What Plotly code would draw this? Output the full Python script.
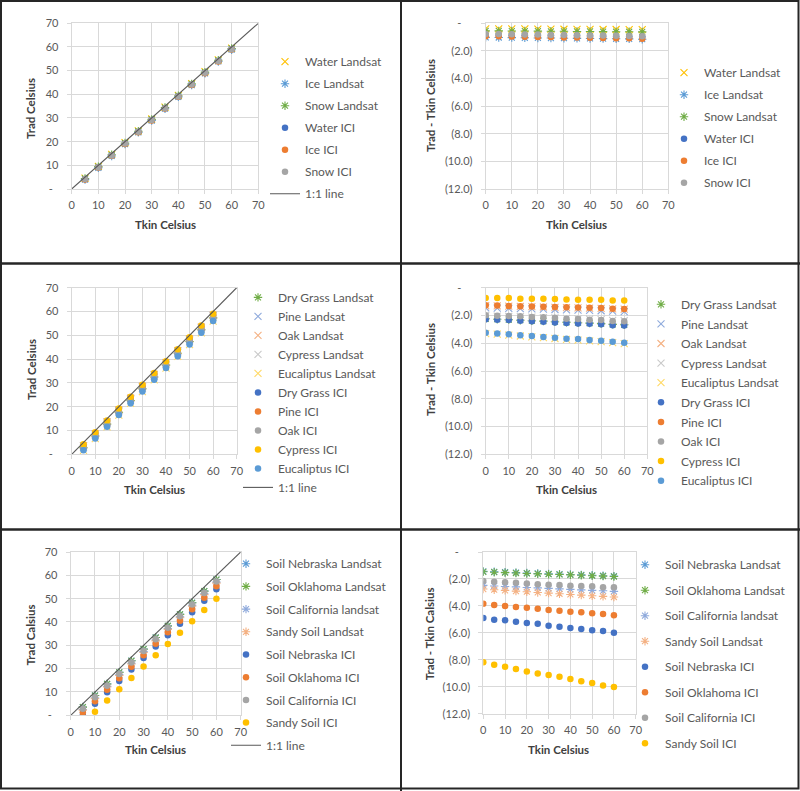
import plotly.graph_objects as go

W, H = 800, 791

def PX(p):
    return p / W

def PY(p):
    return 1 - p / H

FONT = "Lato"
TICK_C = "#595959"
TITLE_C = "#404040"
GRID_C = "#D9D9D9"
BORDER_C = "#262626"

BLUE = "#4472C4"; ORANGE = "#ED7D31"; GRAY = "#A5A5A5"; GOLD = "#FFC000"
LBLUE = "#5B9BD5"; GREEN = "#70AD47"; LAV = "#8FAADC"; SALMON = "#F4B183"
LGRAY = "#C9C9C9"; LGOLD = "#FFD966"; LINE_C = "#595959"

# ---------------- data ----------------
tkin_a = [5, 10, 15, 20, 25, 30, 35, 40, 45, 50, 55, 60]
tkin_b = [0, 5, 10, 15, 20, 25, 30, 35, 40, 45, 50, 55, 60]
line_x = [0, 70]
line_y = [0, 70]

# Panel 1: water / ice / snow, Trad vs Tkin
water_ls = [4.60, 9.59, 14.59, 19.58, 24.58, 29.57, 34.56, 39.56, 44.55, 49.55, 54.54, 59.54]
ice_ls = [3.97, 8.96, 13.95, 18.94, 23.93, 28.92, 33.91, 38.90, 43.89, 48.88, 53.87, 58.85]
snow_ls = [4.45, 9.44, 14.44, 19.43, 24.42, 29.42, 34.41, 39.41, 44.40, 49.39, 54.39, 59.38]
water_ici = [4.15, 9.14, 14.13, 19.12, 24.11, 29.10, 34.09, 39.08, 44.07, 49.05, 54.04, 59.03]
ice_ici = [4.06, 9.04, 14.03, 19.01, 24.00, 28.98, 33.97, 38.95, 43.94, 48.92, 53.91, 58.89]
snow_ici = [4.22, 9.20, 14.19, 19.18, 24.16, 29.15, 34.14, 39.12, 44.11, 49.10, 54.08, 59.07]

# Panel 2: water / ice / snow, Trad - Tkin
water_ls_d = [-0.40, -0.40, -0.41, -0.41, -0.42, -0.42, -0.43, -0.44, -0.44, -0.45, -0.45, -0.46, -0.46]
ice_ls_d = [-1.02, -1.03, -1.04, -1.05, -1.06, -1.07, -1.08, -1.09, -1.10, -1.11, -1.12, -1.13, -1.15]
snow_ls_d = [-0.55, -0.55, -0.56, -0.56, -0.57, -0.58, -0.58, -0.59, -0.59, -0.60, -0.61, -0.61, -0.62]
water_ici_d = [-0.84, -0.85, -0.86, -0.87, -0.88, -0.89, -0.90, -0.91, -0.92, -0.93, -0.95, -0.96, -0.97]
ice_ici_d = [-0.93, -0.94, -0.96, -0.97, -0.99, -1.00, -1.02, -1.03, -1.05, -1.06, -1.08, -1.09, -1.11]
snow_ici_d = [-0.77, -0.78, -0.80, -0.81, -0.82, -0.84, -0.85, -0.86, -0.88, -0.89, -0.90, -0.92, -0.93]

# Panel 3: vegetation, Trad vs Tkin
dry_ls = [2.73, 7.70, 12.66, 17.62, 22.59, 27.55, 32.51, 37.48, 42.45, 47.41, 52.36, 57.33]
pine_ls = [3.53, 8.51, 13.49, 18.47, 23.45, 28.43, 33.40, 38.38, 43.36, 48.34, 53.31, 58.28]
oak_ls = [3.69, 8.67, 13.65, 18.63, 23.61, 28.59, 33.57, 38.55, 43.53, 48.51, 53.48, 58.45]
cyp_ls = [2.96, 7.94, 12.91, 17.88, 22.85, 27.82, 32.79, 37.76, 42.73, 47.70, 52.65, 57.62]
euc_ls = [1.65, 6.59, 11.52, 16.46, 21.40, 26.34, 31.28, 36.23, 41.17, 46.11, 51.05, 55.97]
dry_ici = [2.70, 7.67, 12.62, 17.58, 22.55, 27.50, 32.46, 37.43, 42.41, 47.36, 52.29, 57.28]
pine_ici = [3.72, 8.69, 13.67, 18.64, 23.63, 28.61, 33.59, 38.57, 43.56, 48.53, 53.49, 58.46]
oak_ici = [2.98, 7.96, 12.94, 17.89, 22.87, 27.84, 32.77, 37.75, 42.70, 47.68, 52.60, 57.58]
cyp_ici = [4.26, 9.25, 14.21, 19.20, 24.20, 29.19, 34.15, 39.14, 44.14, 49.13, 54.08, 59.07]
euc_ici = [1.71, 6.64, 11.57, 16.52, 21.45, 26.40, 31.33, 36.30, 41.23, 46.18, 51.11, 56.04]

# Panel 4: vegetation, Trad - Tkin
dry_ls_d = [-2.24, -2.27, -2.30, -2.34, -2.38, -2.41, -2.45, -2.49, -2.52, -2.55, -2.59, -2.64, -2.67]
pine_ls_d = [-1.45, -1.47, -1.49, -1.51, -1.53, -1.55, -1.57, -1.60, -1.62, -1.64, -1.66, -1.69, -1.72]
oak_ls_d = [-1.30, -1.31, -1.33, -1.35, -1.37, -1.39, -1.41, -1.43, -1.45, -1.47, -1.49, -1.52, -1.55]
cyp_ls_d = [-2.02, -2.04, -2.06, -2.09, -2.12, -2.15, -2.18, -2.21, -2.24, -2.27, -2.30, -2.35, -2.38]
euc_ls_d = [-3.30, -3.35, -3.41, -3.48, -3.54, -3.60, -3.66, -3.72, -3.77, -3.83, -3.89, -3.95, -4.03]
dry_ici_d = [-2.28, -2.30, -2.33, -2.38, -2.42, -2.45, -2.50, -2.54, -2.57, -2.59, -2.64, -2.71, -2.72]
pine_ici_d = [-1.27, -1.28, -1.31, -1.33, -1.36, -1.37, -1.39, -1.41, -1.43, -1.44, -1.47, -1.51, -1.54]
oak_ici_d = [-1.99, -2.02, -2.04, -2.06, -2.11, -2.13, -2.16, -2.23, -2.25, -2.30, -2.32, -2.40, -2.42]
cyp_ici_d = [-0.74, -0.74, -0.75, -0.79, -0.80, -0.80, -0.81, -0.85, -0.86, -0.86, -0.87, -0.92, -0.93]
euc_ici_d = [-3.24, -3.29, -3.36, -3.43, -3.48, -3.55, -3.60, -3.67, -3.70, -3.77, -3.82, -3.89, -3.96]

# Panel 5: soils, Trad vs Tkin
neb_ls = [3.53, 8.50, 13.47, 18.44, 23.41, 28.38, 33.36, 38.33, 43.30, 48.27, 53.24, 58.21]
okl_ls = [3.50, 8.47, 13.44, 18.41, 23.38, 28.35, 33.33, 38.30, 43.27, 48.24, 53.21, 58.18]
cal_ls = [2.48, 7.44, 12.41, 17.37, 22.34, 27.30, 32.26, 37.23, 42.19, 47.15, 52.12, 57.08]
sandy_ls = [2.20, 7.15, 12.10, 17.05, 22.00, 26.95, 31.90, 36.85, 41.80, 46.75, 51.71, 56.66]
neb_ici = [-0.02, 4.93, 9.83, 14.73, 19.68, 24.53, 29.46, 34.36, 39.28, 44.19, 49.14, 54.01]
okl_ici = [1.07, 5.99, 10.92, 15.87, 20.79, 25.69, 30.64, 35.57, 40.52, 45.45, 50.40, 55.30]
cal_ici = [2.80, 7.75, 12.72, 17.67, 22.60, 27.57, 32.55, 37.50, 42.48, 47.45, 52.38, 57.38]
sandy_ici = [-3.37, 1.49, 6.31, 11.14, 15.99, 20.87, 25.74, 30.57, 35.40, 40.27, 45.10, 49.98]

# Panel 6: soils, Trad - Tkin
neb_ls_d = [-1.44, -1.47, -1.50, -1.53, -1.56, -1.59, -1.62, -1.64, -1.67, -1.70, -1.73, -1.76, -1.79]
okl_ls_d = [-1.47, -1.50, -1.53, -1.56, -1.59, -1.62, -1.65, -1.67, -1.70, -1.73, -1.76, -1.79, -1.82]
cal_ls_d = [-2.48, -2.52, -2.56, -2.59, -2.63, -2.66, -2.70, -2.74, -2.77, -2.81, -2.85, -2.88, -2.92]
sandy_ls_d = [-2.75, -2.80, -2.85, -2.90, -2.95, -3.00, -3.05, -3.10, -3.15, -3.20, -3.25, -3.29, -3.34]
neb_ici_d = [-4.90, -5.02, -5.07, -5.17, -5.27, -5.32, -5.47, -5.54, -5.64, -5.72, -5.81, -5.86, -5.99]
okl_ici_d = [-3.84, -3.93, -4.01, -4.08, -4.13, -4.21, -4.31, -4.36, -4.43, -4.48, -4.55, -4.60, -4.70]
cal_ici_d = [-2.15, -2.20, -2.25, -2.28, -2.33, -2.40, -2.43, -2.45, -2.50, -2.52, -2.55, -2.62, -2.62]
sandy_ici_d = [-8.19, -8.37, -8.51, -8.69, -8.86, -9.01, -9.13, -9.26, -9.43, -9.60, -9.73, -9.90, -10.02]

x_ticks = [0, 10, 20, 30, 40, 50, 60, 70]
trad_ticks = [0, 10, 20, 30, 40, 50, 60, 70]
trad_labels = ["-\u00a0\u00a0", "10", "20", "30", "40", "50", "60", "70"]
diff_ticks = [0, -2, -4, -6, -8, -10, -12]
diff_labels = ["-\u00a0\u00a0\u00a0\u00a0", "(2.0)", "(4.0)", "(6.0)", "(8.0)", "(10.0)", "(12.0)"]

# ---------------- figure ----------------
fig = go.Figure()

def cross(name, x, y, color, sym, ax, lg):
    fig.add_trace(go.Scatter(
        x=x, y=y, name=name, mode="markers", xaxis="x" + ax, yaxis="y" + ax,
        legend=lg, legendgroup=name + lg,
        marker=dict(symbol=sym, size=7, color=color, line=dict(width=1.1, color=color)),
        hoverinfo="x+y+name"))

def dot(name, x, y, color, ax, lg):
    fig.add_trace(go.Scatter(
        x=x, y=y, name=name, mode="markers", xaxis="x" + ax, yaxis="y" + ax,
        legend=lg, legendgroup=name + lg,
        marker=dict(symbol="circle", size=6.5, color=color, line=dict(width=0)),
        hoverinfo="x+y+name"))

def oneline(ax, lg):
    fig.add_trace(go.Scatter(
        x=line_x, y=line_y, name="1:1 line", mode="lines", xaxis="x" + ax, yaxis="y" + ax,
        legend=lg, legendgroup="line" + lg, line=dict(color=LINE_C, width=1.1),
        hoverinfo="skip"))

# Panel 1
cross("Water Landsat", tkin_a, water_ls, GOLD, "x-thin", "", "legend")
cross("Ice Landsat", tkin_a, ice_ls, LBLUE, "asterisk", "", "legend")
cross("Snow Landsat", tkin_a, snow_ls, GREEN, "asterisk", "", "legend")
dot("Water ICI", tkin_a, water_ici, BLUE, "", "legend")
dot("Ice ICI", tkin_a, ice_ici, ORANGE, "", "legend")
dot("Snow ICI", tkin_a, snow_ici, GRAY, "", "legend")
oneline("", "legend")

# Panel 2
cross("Water Landsat", tkin_b, water_ls_d, GOLD, "x-thin", "2", "legend2")
cross("Ice Landsat", tkin_b, ice_ls_d, LBLUE, "asterisk", "2", "legend2")
cross("Snow Landsat", tkin_b, snow_ls_d, GREEN, "asterisk", "2", "legend2")
dot("Water ICI", tkin_b, water_ici_d, BLUE, "2", "legend2")
dot("Ice ICI", tkin_b, ice_ici_d, ORANGE, "2", "legend2")
dot("Snow ICI", tkin_b, snow_ici_d, GRAY, "2", "legend2")

# Panel 3
cross("Dry Grass Landsat", tkin_a, dry_ls, GREEN, "asterisk", "3", "legend3")
cross("Pine Landsat", tkin_a, pine_ls, LAV, "x-thin", "3", "legend3")
cross("Oak Landsat", tkin_a, oak_ls, SALMON, "x-thin", "3", "legend3")
cross("Cypress Landsat", tkin_a, cyp_ls, LGRAY, "x-thin", "3", "legend3")
cross("Eucaliptus Landsat", tkin_a, euc_ls, LGOLD, "x-thin", "3", "legend3")
dot("Dry Grass ICI", tkin_a, dry_ici, BLUE, "3", "legend3")
dot("Pine ICI", tkin_a, pine_ici, ORANGE, "3", "legend3")
dot("Oak ICI", tkin_a, oak_ici, GRAY, "3", "legend3")
dot("Cypress ICI", tkin_a, cyp_ici, GOLD, "3", "legend3")
dot("Eucaliptus ICI", tkin_a, euc_ici, LBLUE, "3", "legend3")
oneline("3", "legend3")

# Panel 4
cross("Dry Grass Landsat", tkin_b, dry_ls_d, GREEN, "asterisk", "4", "legend4")
cross("Pine Landsat", tkin_b, pine_ls_d, LAV, "x-thin", "4", "legend4")
cross("Oak Landsat", tkin_b, oak_ls_d, SALMON, "x-thin", "4", "legend4")
cross("Cypress Landsat", tkin_b, cyp_ls_d, LGRAY, "x-thin", "4", "legend4")
cross("Eucaliptus Landsat", tkin_b, euc_ls_d, LGOLD, "x-thin", "4", "legend4")
dot("Dry Grass ICI", tkin_b, dry_ici_d, BLUE, "4", "legend4")
dot("Pine ICI", tkin_b, pine_ici_d, ORANGE, "4", "legend4")
dot("Oak ICI", tkin_b, oak_ici_d, GRAY, "4", "legend4")
dot("Cypress ICI", tkin_b, cyp_ici_d, GOLD, "4", "legend4")
dot("Eucaliptus ICI", tkin_b, euc_ici_d, LBLUE, "4", "legend4")

# Panel 5
cross("Soil Nebraska Landsat", tkin_a, neb_ls, LBLUE, "asterisk", "5", "legend5")
cross("Soil Oklahoma Landsat", tkin_a, okl_ls, GREEN, "asterisk", "5", "legend5")
cross("Soil California landsat", tkin_a, cal_ls, LAV, "asterisk", "5", "legend5")
cross("Sandy Soil Landsat", tkin_a, sandy_ls, SALMON, "asterisk", "5", "legend5")
dot("Soil Nebraska ICI", tkin_a, neb_ici, BLUE, "5", "legend5")
dot("Soil Oklahoma ICI", tkin_a, okl_ici, ORANGE, "5", "legend5")
dot("Soil California ICI", tkin_a, cal_ici, GRAY, "5", "legend5")
dot("Sandy Soil ICI", tkin_a, sandy_ici, GOLD, "5", "legend5")
oneline("5", "legend5")

# Panel 6
cross("Soil Nebraska Landsat", tkin_b, neb_ls_d, LBLUE, "asterisk", "6", "legend6")
cross("Soil Oklahoma Landsat", tkin_b, okl_ls_d, GREEN, "asterisk", "6", "legend6")
cross("Soil California landsat", tkin_b, cal_ls_d, LAV, "asterisk", "6", "legend6")
cross("Sandy Soil Landsat", tkin_b, sandy_ls_d, SALMON, "asterisk", "6", "legend6")
dot("Soil Nebraska ICI", tkin_b, neb_ici_d, BLUE, "6", "legend6")
dot("Soil Oklahoma ICI", tkin_b, okl_ici_d, ORANGE, "6", "legend6")
dot("Soil California ICI", tkin_b, cal_ici_d, GRAY, "6", "legend6")
dot("Sandy Soil ICI", tkin_b, sandy_ici_d, GOLD, "6", "legend6")

# ---------------- layout ----------------
def base_axis():
    return dict(showgrid=True, gridcolor=GRID_C, gridwidth=1, zeroline=False,
                showline=True, linecolor=GRID_C, linewidth=1, mirror=True,
                ticks="outside", ticklen=4, tickcolor=GRID_C, tickwidth=1,
                automargin=False,
                tickfont=dict(family=FONT, size=11, color=TICK_C), fixedrange=True)

# plot-area boxes in pixels: (left, right, top, bottom)
boxes = {
    "": (71.7, 258.3, 23.3, 189.0),
    "2": (485.7, 668.3, 23.3, 189.0),
    "3": (71.7, 236.7, 287.7, 454.3),
    "4": (485.7, 647.3, 287.7, 454.3),
    "5": (70.7, 240.7, 552.0, 715.3),
    "6": (483.3, 635.7, 552.0, 713.7),
}
diff_panels = {"2", "4", "6"}
layout = {}
for k, (l, r, t, b) in boxes.items():
    xa = base_axis()
    xa.update(domain=[PX(l), PX(r)], range=[0, 70], tickmode="array", tickvals=x_ticks,
              ticktext=[str(v) for v in x_ticks], anchor="y" + k, ticklabelstandoff=2)
    ya = base_axis()
    if k in diff_panels:
        ya.update(range=[-12, 0], tickmode="array", tickvals=diff_ticks, ticktext=diff_labels)
    else:
        ya.update(range=[0, 70], tickmode="array", tickvals=trad_ticks, ticktext=trad_labels)
    ya.update(domain=[PY(b), PY(t)], anchor="x" + k, ticklabelstandoff=6)
    layout["xaxis" + k] = xa
    layout["yaxis" + k] = ya

# legends: (left px, top px, tracegroupgap)
legs = {
    "legend": (265, 47.2, 3),
    "legend2": (664, 58.2, 3),
    "legend3": (238, 282.9, 0),
    "legend4": (641, 289.8, 0.6),
    "legend5": (226, 549.2, 3.7),
    "legend6": (625, 550.2, 6.5),
}
for name, (lx, ly, gap) in legs.items():
    layout[name] = dict(x=PX(lx), y=PY(ly), xanchor="left", yanchor="top",
                        bgcolor="rgba(0,0,0,0)", borderwidth=0,
                        traceorder="grouped", tracegroupgap=gap,
                        font=dict(family=FONT, size=12, color=TICK_C))

# axis titles
titles = [
    ("Tkin Celsius", 165.0, 225.0, 0), ("Trad Celsius", 30.7, 108.3, -90),
    ("Tkin Celsius", 576.7, 224.7, 0), ("Trad - Tkin Celsius", 430.0, 106.0, -90),
    ("Tkin Celsius", 154.3, 489.7, 0), ("Trad Celsius", 31.0, 370.0, -90),
    ("Tkin Celsius", 566.7, 489.7, 0), ("Trad - Tkin Celsius", 430.0, 370.0, -90),
    ("Tkin Celsius", 155.7, 749.0, 0), ("Trad Calsius", 30.7, 634.7, -90),
    ("Tkin Celsius", 558.3, 749.0, 0), ("Trad - Tkin Calsius", 429.3, 634.0, -90),
]
annotations = []
for txt, cx, cy, ang in titles:
    annotations.append(dict(text="<b>" + txt + "</b>", x=PX(cx), y=PY(cy), xref="paper", yref="paper",
                            xanchor="center", yanchor="middle", textangle=ang, showarrow=False,
                            font=dict(family=FONT, size=11.5, color=TITLE_C)))

# panel borders
shapes = [
    dict(type="rect", xref="paper", yref="paper", x0=PX(1), x1=PX(798.5), y0=PY(788.5), y1=PY(1),
         line=dict(color=BORDER_C, width=2)),
    dict(type="line", xref="paper", yref="paper", x0=PX(401), x1=PX(401), y0=PY(791), y1=PY(0),
         line=dict(color=BORDER_C, width=2)),
    dict(type="line", xref="paper", yref="paper", x0=PX(0), x1=PX(800), y0=PY(263.5), y1=PY(263.5),
         line=dict(color=BORDER_C, width=2.5)),
    dict(type="line", xref="paper", yref="paper", x0=PX(0), x1=PX(800), y0=PY(529.5), y1=PY(529.5),
         line=dict(color=BORDER_C, width=2.5)),
]

fig.update_layout(width=W, height=H, margin=dict(l=0, r=0, t=0, b=0, autoexpand=False),
                  paper_bgcolor="white", plot_bgcolor="white",
                  font=dict(family=FONT, size=11, color=TICK_C),
                  annotations=annotations, shapes=shapes, showlegend=True, **layout)

fig.write_html("out.html", config={"displayModeBar": False},
               post_script="document.body.style.margin='0px';document.body.style.overflow='hidden';")
